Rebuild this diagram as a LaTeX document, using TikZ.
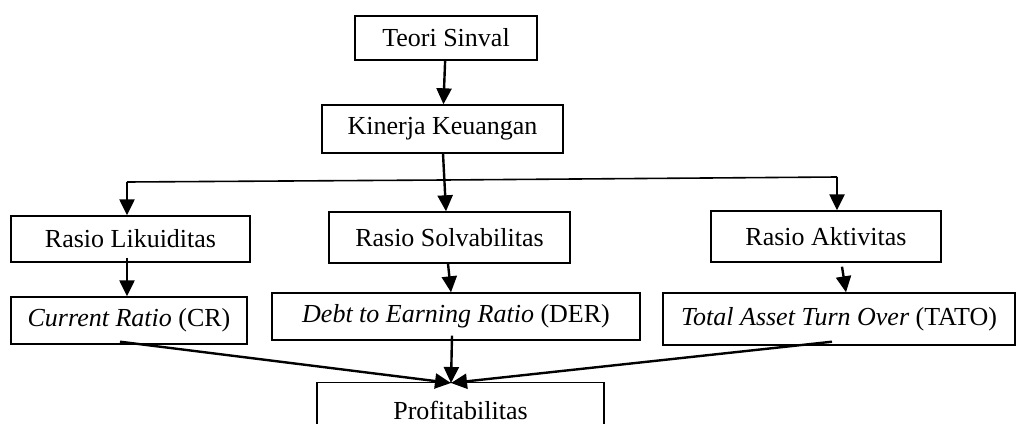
\documentclass[tikz,border=0pt]{standalone}
\usepackage{fontspec}
\setmainfont{Liberation Serif}
\usetikzlibrary{arrows.meta}
\begin{document}
\begin{tikzpicture}[x=1pt,y=-1pt,
  box/.style={draw,line width=1.4pt,inner sep=0pt,font=\fontsize{26}{30}\selectfont},
  arr/.style={line width=2.4pt,-{Triangle[length=16pt,width=15pt]}},
  conn/.style={line width=1.6pt}]
\clip (0,0) rectangle (1016,423);
\fill[white] (0,0) rectangle (1016,423);
\node[box,minimum width=182pt,minimum height=44pt] (teori) at (446,38) {Teori Sinval};
\node[box,minimum width=241pt,minimum height=48pt] (kinerja) at (442.5,129) {Kinerja Keuangan};
\node[box,minimum width=239pt,minimum height=46pt] (likuid) at (130.5,239) {Rasio Likuiditas};
\node[box,minimum width=241pt,minimum height=51pt] (solva) at (449.5,237.5) {Rasio Solvabilitas};
\node[box,minimum width=230pt,minimum height=51pt] (aktiv) at (826,236.5) {Rasio Aktivitas};
\node[box,minimum width=236pt,minimum height=47pt] (cr) at (129,320.5) {\textit{Current Ratio} (CR)};
\node[box,minimum width=368pt,minimum height=47pt] (der) at (456,316.5) {\textit{Debt to Earning Ratio} (DER)};
\node[box,minimum width=352pt,minimum height=52pt] (tato) at (839,319) {\textit{Total Asset Turn Over} (TATO)};
\node[box,minimum width=287pt,minimum height=70pt,anchor=north] (profit) at (460.5,382) {};
\node[font=\fontsize{26}{30}\selectfont,anchor=base,inner sep=0pt] (ptext) at (460.5,419) {Profitabilitas};
\coordinate (jl) at (127,182);
\coordinate (jr) at (837,177);
\coordinate (jm) at (444,180);
\coordinate (merge) at (451,383);
\draw[arr] (teori) -- (kinerja);
\draw[conn] (jl) -- (jm) -- (jr);
\draw[arr] ([xshift=0.5pt]kinerja.south) -- ([xshift=-3.5pt]solva.north);
\draw[arr] (jl) -- (likuid.north -| jl);
\draw[arr] (jr) -- ([xshift=11pt]aktiv.north);
\draw[arr] ([yshift=5pt]likuid.south -| jl) -- (cr.north -| jl);
\draw[arr] ([xshift=-1.5pt]solva.south) -- ([xshift=-5pt]der.north);
\draw[arr] ([xshift=16pt,yshift=-4pt]aktiv.south) -- ([xshift=7pt]tato.north);
\draw[arr] ([xshift=-9pt,yshift=3pt]cr.south) -- (merge);
\draw[arr] ([xshift=-4pt,yshift=5pt]der.south) -- (merge);
\draw[arr] ([xshift=-7pt,yshift=4pt]tato.south) -- (merge);
\end{tikzpicture}
\end{document}
